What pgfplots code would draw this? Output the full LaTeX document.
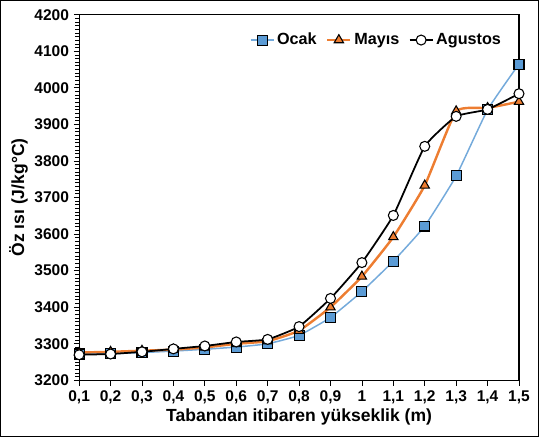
\documentclass[border=0pt]{standalone}
\usepackage{pgfplots}
\pgfplotsset{compat=1.18}
\usepackage{fontspec}
\setmainfont{Liberation Sans}
\usetikzlibrary{calc}

\definecolor{ocakblue}{HTML}{5B9BD5}
\definecolor{mayisorange}{HTML}{ED7D31}

\begin{document}
\begin{tikzpicture}
\begin{axis}[
  width=326pt, height=271pt,
  scale only axis,
  xmin=0.1, xmax=1.5,
  ymin=3200, ymax=4200,
  xtick={0.1,0.2,0.3,0.4,0.5,0.6,0.7,0.8,0.9,1.0,1.1,1.2,1.3,1.4,1.5},
  xticklabels={{0,1},{0,2},{0,3},{0,4},{0,5},{0,6},{0,7},{0,8},{0,9},{1},{1,1},{1,2},{1,3},{1,4},{1,5}},
  ytick={3200,3300,...,4200},
  minor y tick num=9,
  /pgf/number format/assume math mode=true,
  /pgf/number format/set thousands separator={},
  tick label style={font=\bfseries\fontsize{11.5}{13}\selectfont},
  tick align=outside,
  xtick pos=bottom, ytick pos=left,
  major tick length=4pt, minor tick length=3pt,
  every tick/.style={black, line width=0.6pt},
  axis line style={line width=0.8pt},
  xlabel={\bfseries Tabandan itibaren yükseklik (m)},
  ylabel={\bfseries Öz ısı (J/kg°C)},
  label style={font=\bfseries\fontsize{13}{15}\selectfont},
  xlabel style={yshift=3pt},
  ylabel style={yshift=-2pt},
  legend style={at={(0.975,0.965)}, anchor=north east, draw=none, fill=none,
    legend columns=3, font=\bfseries\fontsize{12}{14}\selectfont,
    /tikz/every even column/.append style={column sep=5pt}},
  legend cell align=left,
  clip=false,
]
\addplot[ocakblue!85!white, line width=1.1pt, smooth, tension=0.25, mark=square*,
  mark options={fill=ocakblue, draw=black, line width=0.8pt, scale=1.85}]
  coordinates {(0.1,3272) (0.2,3273) (0.3,3276) (0.4,3280) (0.5,3285)
  (0.6,3291) (0.7,3300) (0.8,3323) (0.9,3372) (1.0,3443) (1.1,3526)
  (1.2,3622) (1.3,3759) (1.4,3940) (1.5,4065)};
\addlegendentry{Ocak}
\addplot[mayisorange, line width=1.8pt, smooth, tension=0.25, mark=triangle*,
  mark options={fill=mayisorange, draw=black, line width=0.8pt, scale=2.0}]
  coordinates {(0.1,3276) (0.2,3278) (0.3,3281) (0.4,3284) (0.5,3290)
  (0.6,3300) (0.7,3307) (0.8,3336) (0.9,3400) (1.0,3484) (1.1,3592)
  (1.2,3733) (1.3,3936) (1.4,3945) (1.5,3962)};
\addlegendentry{Mayıs}
\addplot[black, line width=1.3pt, smooth, tension=0.25, mark=*,
  mark options={fill=white, draw=black, line width=0.8pt, scale=1.85}]
  coordinates {(0.1,3270) (0.2,3272) (0.3,3278) (0.4,3286) (0.5,3294)
  (0.6,3305) (0.7,3312) (0.8,3347) (0.9,3424) (1.0,3522) (1.1,3651)
  (1.2,3840) (1.3,3922) (1.4,3941) (1.5,3984)};
\addlegendentry{Agustos}
\end{axis}
\draw[line width=1pt] ($(current bounding box.south west)+(-3pt,-5pt)$)
  rectangle ($(current bounding box.north east)+(3pt,3pt)$);
\end{tikzpicture}
\end{document}
